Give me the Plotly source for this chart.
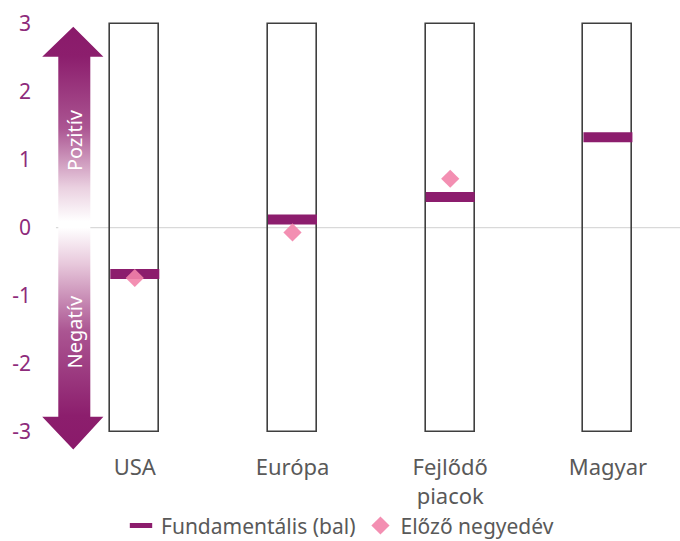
import plotly.graph_objects as go

# Data
categories = ["USA", "Európa", "Fejlődő<br>piacok", "Magyar"]
fundamental = [-0.68, 0.12, 0.45, 1.33]      # Fundamentális (bal)
previous_quarter = [-0.74, -0.07, 0.72, None]  # Előző negyedév
y_ticks = [-3, -2, -1, 0, 1, 2, 3]
y_tick_text = ["-3", "-2", "-1", "0", "1", "2", "3"]

x_pos = list(range(len(categories)))
PURPLE = "#8c1d6d"
PINK = "#f283aa"
GRAY_TXT = "#595959"
TICK_PURPLE = "#8e2b7b"
FONT = "Noto Sans"

# Outline of the decorative double arrow beside the axis (x in category units, y in score units)
ARROW_X = [-0.390, -0.199, -0.282, -0.282, -0.199, -0.390, -0.587, -0.485, -0.485, -0.587, -0.390]
ARROW_Y = [2.956, 2.515, 2.515, -2.780, -2.780, -3.265, -2.780, -2.780, 2.515, 2.515, 2.956]

fig = go.Figure()

# Gradient arrow: purple at both tips, fading to white around zero
fig.add_trace(go.Scatter(
    x=ARROW_X, y=ARROW_Y, mode="lines", fill="toself", line=dict(width=0),
    fillgradient=dict(
        type="vertical", start=min(ARROW_Y), stop=max(ARROW_Y),
        colorscale=[
            [0.0, "#8a1a6a"], [0.08, "#8c1e6d"], [0.28, "#ab5592"],
            [0.44, "#e8c9dc"], [0.525, "#ffffff"], [0.54, "#ffffff"],
            [0.62, "#ead0e0"], [0.76, "#ab5592"], [0.93, "#8c1e6d"], [1.0, "#8a1a6a"],
        ],
    ),
    showlegend=False, hoverinfo="skip",
))

# Zero reference line
fig.add_shape(type="line", xref="x", yref="y", x0=-0.5, x1=3.457, y0=0, y1=0,
              line=dict(color="#d9d9d9", width=1.2), layer="below")

# Scale frames from -3 to 3
fig.add_trace(go.Bar(
    x=x_pos, y=[y_ticks[-1] - y_ticks[0]] * len(x_pos), base=y_ticks[0],
    width=0.31, marker=dict(color="rgba(0,0,0,0)", line=dict(color="#3f3f3f", width=1.6)),
    showlegend=False, hoverinfo="skip",
))

# Current fundamental score
fig.add_trace(go.Scatter(
    x=x_pos, y=fundamental, mode="markers", name="Fundamentális (bal)",
    marker=dict(symbol="line-ew", size=35, line=dict(color=PURPLE, width=10)),
))

# Previous quarter
fig.add_trace(go.Scatter(
    x=x_pos, y=previous_quarter, mode="markers", name="Előző negyedév",
    marker=dict(symbol="diamond", size=14, color=PINK, opacity=0.9, line=dict(width=0)),
))

fig.add_annotation(text="Pozitív", xref="x", yref="y", x=-0.385, y=1.29,
                   textangle=-90, showarrow=False,
                   font=dict(family=FONT, size=20, color="white"))
fig.add_annotation(text="Negatív", xref="x", yref="y", x=-0.385, y=-1.54,
                   textangle=-90, showarrow=False,
                   font=dict(family=FONT, size=20, color="white"))

fig.update_layout(
    width=680, height=541,
    margin=dict(l=40, r=0, t=17, b=89, autoexpand=False),
    paper_bgcolor="white", plot_bgcolor="white",
    font=dict(family=FONT, color=GRAY_TXT),
    showlegend=True,
    legend=dict(orientation="h", x=0.5, xanchor="center", xref="container",
                y=0.028, yanchor="middle", yref="container",
                bgcolor="rgba(0,0,0,0)",
                font=dict(size=21, color=GRAY_TXT), itemwidth=30),
    bargap=0,
)
fig.update_xaxes(
    range=[-0.601, 3.457], tickvals=x_pos, ticktext=categories,
    showgrid=False, zeroline=False, showline=False, ticks="",
    tickfont=dict(size=22, color=GRAY_TXT), ticklabelstandoff=0, automargin=False,
)
fig.update_yaxes(
    range=[-3.3, 3.1], tickvals=y_ticks, ticktext=y_tick_text, showgrid=False,
    zeroline=False, showline=False, ticks="", tickfont=dict(size=21, color=TICK_PURPLE),
    ticklabelstandoff=8, automargin=False,
)

fig.write_html("out.html")
